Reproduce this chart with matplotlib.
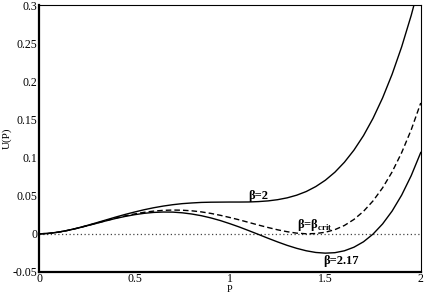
import matplotlib
matplotlib.use('Agg')
import matplotlib.pyplot as plt

plt.rcParams['font.family'] = ['Liberation Serif', 'DejaVu Serif']
plt.rcParams['mathtext.fontset'] = 'custom'
plt.rcParams['mathtext.rm'] = 'Liberation Serif'
plt.rcParams['mathtext.bf'] = 'Liberation Serif:bold'

# P grid
p = [0.00, 0.05, 0.10, 0.15, 0.20, 0.25, 0.30, 0.35, 0.40, 0.45,
     0.50, 0.55, 0.60, 0.65, 0.70, 0.75, 0.80, 0.85, 0.90, 0.95,
     1.00, 1.05, 1.10, 1.15, 1.20, 1.25, 1.30, 1.35, 1.40, 1.45,
     1.50, 1.55, 1.60, 1.65, 1.70, 1.75, 1.80, 1.85, 1.90, 1.95, 2.00]

# U(P) for beta = 2
u_b2 = [0.0000, 0.0006, 0.0022, 0.0046, 0.0075, 0.0109, 0.0145, 0.0182, 0.0219, 0.0254,
        0.0286, 0.0316, 0.0342, 0.0364, 0.0382, 0.0396, 0.0405, 0.0412, 0.0415, 0.0416,
        0.0417, 0.0417, 0.0418, 0.0423, 0.0432, 0.0448, 0.0472, 0.0507, 0.0555, 0.0620,
        0.0703, 0.0808, 0.0939, 0.1098, 0.1288, 0.1515, 0.1782, 0.2093, 0.2452, 0.2864, 0.3333]

# U(P) for beta = beta_crit
u_crit = [0.0000, 0.0006, 0.0022, 0.0045, 0.0074, 0.0106, 0.0140, 0.0173, 0.0206, 0.0235,
          0.0261, 0.0282, 0.0298, 0.0308, 0.0312, 0.0310, 0.0302, 0.0288, 0.0268, 0.0243,
          0.0214, 0.0183, 0.0149, 0.0115, 0.0083, 0.0053, 0.0028, 0.0009, 0.0001, 0.0004,
          0.0021, 0.0055, 0.0110, 0.0189, 0.0295, 0.0432, 0.0603, 0.0812, 0.1065, 0.1364, 0.1716]

# U(P) for beta = 2.17
u_b217 = [0.0000, 0.0006, 0.0022, 0.0045, 0.0073, 0.0105, 0.0137, 0.0170, 0.0201, 0.0228,
          0.0251, 0.0269, 0.0281, 0.0286, 0.0285, 0.0276, 0.0260, 0.0238, 0.0209, 0.0174,
          0.0133, 0.0089, 0.0041, -0.0008, -0.0058, -0.0106, -0.0151, -0.0190, -0.0222, -0.0244,
          -0.0253, -0.0247, -0.0222, -0.0175, -0.0104, -0.0003, 0.0130, 0.0299, 0.0508, 0.0763, 0.1067]

xticks = [0, 0.5, 1, 1.5, 2]
xtick_labels = ['0', '0.5', '1', '1.5', '2']
yticks = [-0.05, 0, 0.05, 0.1, 0.15, 0.2, 0.25, 0.3]
ytick_labels = ['-0.05', '0', '0.05', '0.1', '0.15', '0.2', '0.25', '0.3']

fig = plt.figure(figsize=(4.25, 2.95), dpi=100)
ax = fig.add_axes([0.092, 0.078, 0.898, 0.905])

ax.plot([0, 2], [0, 0], color='#444444', lw=0.9, linestyle=(0, (1, 2)))
ax.plot(p, u_b2, color='black', lw=1.0)
ax.plot(p, u_crit, color='black', lw=1.0, dashes=(4, 2.2))
ax.plot(p, u_b217, color='black', lw=1.0)

ax.set_xlim(0, 2)
ax.set_ylim(-0.05, 0.3)
ax.set_xticks(xticks)
ax.set_xticklabels(xtick_labels)
ax.set_yticks(yticks)
ax.set_yticklabels(ytick_labels)
ax.tick_params(axis='y', length=0, labelsize=8.5, pad=1.5)
ax.tick_params(axis='x', length=0, labelsize=8.5, pad=0.5)

for side in ['left', 'bottom']:
    ax.spines[side].set_linewidth(1.6)
for side in ['top', 'right']:
    ax.spines[side].set_linewidth(0.8)

ax.set_xlabel('P', fontsize=7.5, va='bottom')
ax.set_ylabel('U(P)', fontsize=8)
ax.xaxis.set_label_coords(0.5, -0.082)
ax.yaxis.set_label_coords(-0.072, 0.5)

ax.text(1.094, 0.050, 'β=2', fontsize=9, fontweight='bold', va='center')
ax.text(1.35, 0.012, r'β=β$_{\mathbf{crit}}$', fontsize=9, fontweight='bold', va='center')
ax.text(1.49, -0.0355, 'β=2.17', fontsize=9, fontweight='bold', va='center')

fig.savefig('out.png', dpi=100)
